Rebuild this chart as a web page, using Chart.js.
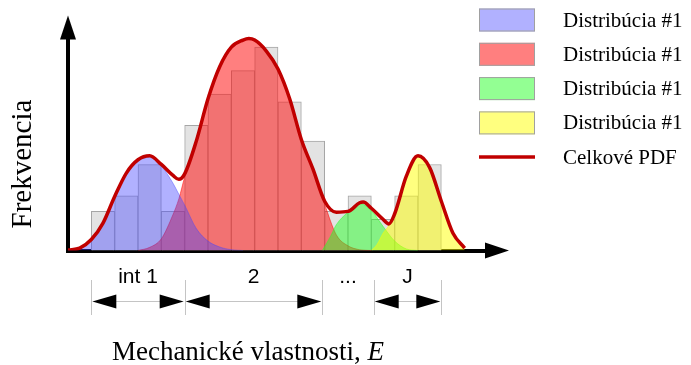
<!DOCTYPE html>
<html>
<head>
<meta charset="utf-8">
<script src="https://cdn.jsdelivr.net/npm/chart.js"></script>
<style>
  html, body { margin: 0; padding: 0; background: #fff; }
  #wrap { width: 691px; height: 365px; }
</style>
</head>
<body>
<div id="wrap"><canvas id="pdf" width="691" height="365"></canvas></div>
<script>
// histogram, bins one unit wide
const binCenters = [1.5, 2.5, 3.5, 4.5, 5.5, 6.5, 7.5, 8.5, 9.5, 10.5, 11.5, 12.5, 13.5, 14.5, 15.5];
const binCounts = [5, 7, 11, 5, 16, 20, 23, 26, 19, 14, 5, 7, 4, 7, 11];

// component densities sampled along E
const dist1X = [0, 0.5, 1, 1.5, 2, 2.5, 3, 3.5, 4, 4.5, 4.75, 5, 5.5, 6, 6.5, 7, 7.5];
const dist1Y = [0.05, 0.3, 1.4, 3.5, 6.8, 9.8, 11.5, 11.9, 10.8, 8.6, 7.2, 5.8, 2.8, 1.2, 0.45, 0.1, 0];

const dist2X = [3, 3.5, 4, 4.5, 4.75, 5, 5.5, 6, 6.5, 7, 7.5, 7.75, 8, 8.5, 9, 9.5, 10, 10.5, 11, 11.5, 12, 12.5, 13];
const dist2Y = [0, 0.4, 1.5, 4.6, 6.6, 9.4, 13.9, 19.3, 23.4, 25.9, 26.8, 27.0, 26.8, 25.4, 23.1, 19.3, 14.1, 10.3, 5.9, 2.0, 0.6, 0.1, 0];

const dist3X = [10.9, 11.25, 11.5, 12, 12.5, 13, 13.5, 14, 14.5, 15];
const dist3Y = [0, 1.8, 3.3, 4.9, 6.0, 5.1, 3.1, 1.2, 0.2, 0];

const dist4X = [13, 13.25, 13.5, 13.75, 14, 14.5, 15, 15.5, 16, 16.5, 17];
const dist4Y = [0, 0.8, 2.2, 3.2, 4.7, 9.5, 12.1, 10.6, 6.3, 2.2, 0.3];

// overall PDF
const totalX = [0, 0.5, 1, 1.5, 2, 2.5, 3, 3.5, 4, 4.5, 4.75, 5, 5.5, 6, 6.5, 7, 7.5, 7.75, 8, 8.5, 9, 9.5, 10, 10.5, 11, 11.5, 12, 12.5, 12.65, 13, 13.5, 13.75, 14, 14.5, 15, 15.5, 16, 16.5, 17];
const totalY = [0.05, 0.3, 1.4, 3.5, 6.9, 9.9, 11.6, 12.1, 11.0, 9.6, 9.1, 9.8, 14.0, 19.4, 23.5, 26.0, 26.9, 27.1, 26.9, 25.5, 23.2, 19.4, 14.2, 10.4, 6.3, 4.9, 5.0, 6.1, 6.2, 5.4, 4.0, 3.4, 4.7, 9.5, 12.1, 10.6, 6.3, 2.2, 0.3];

const seriesLabels = ['Distribúcia #1', 'Distribúcia #1', 'Distribúcia #1', 'Distribúcia #1', 'Celkové PDF'];
const seriesColors = ['rgba(70,70,255,0.42)', 'rgba(255,10,10,0.52)', 'rgba(40,255,40,0.5)', 'rgba(255,255,0,0.5)', '#c00000'];

// intervals marked below the axis
const intervalEdges = [1, 5, 10.9, 13.1, 16];
const intervalLabels = ['int 1', '2', '...', 'J'];
const intervalArrows = [true, true, false, true];

const xTitle = 'Mechanické vlastnosti, ';
const xTitleVar = 'E';
const yTitle = 'Frekvencia';

const SERIF = '"Liberation Serif", "Times New Roman", serif';
const SANS = '"Liberation Sans", Arial, sans-serif';

function toPoints(xs, ys) {
  return xs.map((x, i) => ({ x: x, y: ys[i] }));
}

function curve(xs, ys, i, order) {
  return {
    type: 'line',
    label: seriesLabels[i],
    data: toPoints(xs, ys),
    backgroundColor: seriesColors[i],
    borderColor: seriesColors[i],
    borderWidth: 1,
    fill: 'origin',
    pointRadius: 0,
    cubicInterpolationMode: 'monotone',
    order: order
  };
}

function triangle(ctx, tx, ty, bx1, by1, bx2, by2) {
  ctx.beginPath();
  ctx.moveTo(tx, ty);
  ctx.lineTo(bx1, by1);
  ctx.lineTo(bx2, by2);
  ctx.closePath();
  ctx.fill();
}

const decorations = {
  id: 'decorations',
  afterDraw(chart) {
    const ctx = chart.ctx;
    const area = chart.chartArea;
    const xs = chart.scales.x;
    ctx.save();
    ctx.fillStyle = '#000';

    // axis arrow heads
    const ax = area.left, ay = area.bottom;
    triangle(ctx, ax, area.top - 16, ax - 8, area.top + 8, ax + 8, area.top + 8);
    triangle(ctx, area.right + 21, ay, area.right - 3, ay - 8, area.right - 3, ay + 8);

    // legend
    const rowY = [20, 54.3, 88.6, 122.9, 157];
    chart.data.datasets.forEach(ds => {
      if (ds.legendRow === undefined) return;
      const y = rowY[ds.legendRow];
      if (ds.fill) {
        ctx.fillStyle = ds.backgroundColor;
        ctx.fillRect(479, y - 11.5, 56, 23);
        ctx.strokeStyle = '#a0a0a0';
        ctx.lineWidth = 1;
        ctx.strokeRect(479.5, y - 11, 55, 22);
      } else {
        ctx.strokeStyle = ds.borderColor;
        ctx.lineWidth = 3.5;
        ctx.beginPath();
        ctx.moveTo(479, y);
        ctx.lineTo(535, y);
        ctx.stroke();
      }
      ctx.fillStyle = '#000';
      ctx.font = '21px ' + SERIF;
      ctx.textAlign = 'left';
      ctx.textBaseline = 'middle';
      ctx.fillText(ds.label, 563, y + 1);
    });

    // interval dimension marks
    const px = intervalEdges.map(v => xs.getPixelForValue(v));
    ctx.strokeStyle = '#c4c4c4';
    ctx.lineWidth = 1;
    px.forEach(p => {
      ctx.beginPath();
      ctx.moveTo(Math.round(p) + 0.5, 280);
      ctx.lineTo(Math.round(p) + 0.5, 315);
      ctx.stroke();
    });
    const lineY = 301.5;
    ctx.font = '21px ' + SANS;
    ctx.textAlign = 'center';
    ctx.textBaseline = 'middle';
    intervalLabels.forEach((lab, i) => {
      const a = px[i], b = px[i + 1];
      if (intervalArrows[i]) {
        ctx.strokeStyle = '#c4c4c4';
        ctx.beginPath();
        ctx.moveTo(a + 24, lineY);
        ctx.lineTo(b - 24, lineY);
        ctx.stroke();
        ctx.fillStyle = '#000';
        triangle(ctx, a + 1, lineY, a + 25, lineY - 7, a + 25, lineY + 7);
        triangle(ctx, b - 1, lineY, b - 25, lineY - 7, b - 25, lineY + 7);
      }
      ctx.fillStyle = '#000';
      ctx.fillText(lab, (a + b) / 2, 277);
    });

    // axis titles
    ctx.font = '27px ' + SERIF;
    const w1 = ctx.measureText(xTitle).width;
    ctx.font = 'italic 27px ' + SERIF;
    const w2 = ctx.measureText(xTitleVar).width;
    const x0 = 248 - (w1 + w2) / 2;
    ctx.textAlign = 'left';
    ctx.textBaseline = 'alphabetic';
    ctx.font = '27px ' + SERIF;
    ctx.fillText(xTitle, x0, 360);
    ctx.font = 'italic 27px ' + SERIF;
    ctx.fillText(xTitleVar, x0 + w1, 360);

    ctx.translate(23, 164);
    ctx.rotate(-Math.PI / 2);
    ctx.font = '29px ' + SERIF;
    ctx.textAlign = 'center';
    ctx.textBaseline = 'middle';
    ctx.fillText(yTitle, 0, 0);
    ctx.restore();
  }
};

const ds1 = curve(dist1X, dist1Y, 0, 3); ds1.legendRow = 0;
const ds2 = curve(dist2X, dist2Y, 1, 4); ds2.legendRow = 1;
const ds3 = curve(dist3X, dist3Y, 2, 2); ds3.legendRow = 2;
const ds4 = curve(dist4X, dist4Y, 3, 1); ds4.legendRow = 3;

new Chart(document.getElementById('pdf'), {
  type: 'bar',
  data: {
    datasets: [
      {
        type: 'line',
        label: seriesLabels[4],
        legendRow: 4,
        data: toPoints(totalX, totalY),
        borderColor: seriesColors[4],
        borderWidth: 3.5,
        fill: false,
        pointRadius: 0,
        cubicInterpolationMode: 'monotone',
        order: 0
      },
      ds4, ds3, ds1, ds2,
      {
        type: 'bar',
        label: 'hist',
        data: toPoints(binCenters, binCounts),
        backgroundColor: '#e3e3e3',
        borderColor: '#a6a6a6',
        borderWidth: 1,
        barPercentage: 1,
        categoryPercentage: 1,
        order: 5
      }
    ]
  },
  options: {
    responsive: false,
    animation: false,
    devicePixelRatio: 1,
    events: [],
    layout: { padding: { left: 68, right: 203, top: 31.5, bottom: 114.5 } },
    plugins: { legend: { display: false }, tooltip: { enabled: false } },
    scales: {
      x: {
        type: 'linear', min: 0, max: 18, offset: false, z: 1,
        grid: { display: false, drawTicks: false }, ticks: { display: false },
        border: { display: true, color: '#000', width: 4 }
      },
      y: {
        type: 'linear', min: 0, max: 28, z: 1,
        grid: { display: false, drawTicks: false }, ticks: { display: false },
        border: { display: true, color: '#000', width: 4 }
      }
    }
  },
  plugins: [decorations]
});
</script>
</body>
</html>
